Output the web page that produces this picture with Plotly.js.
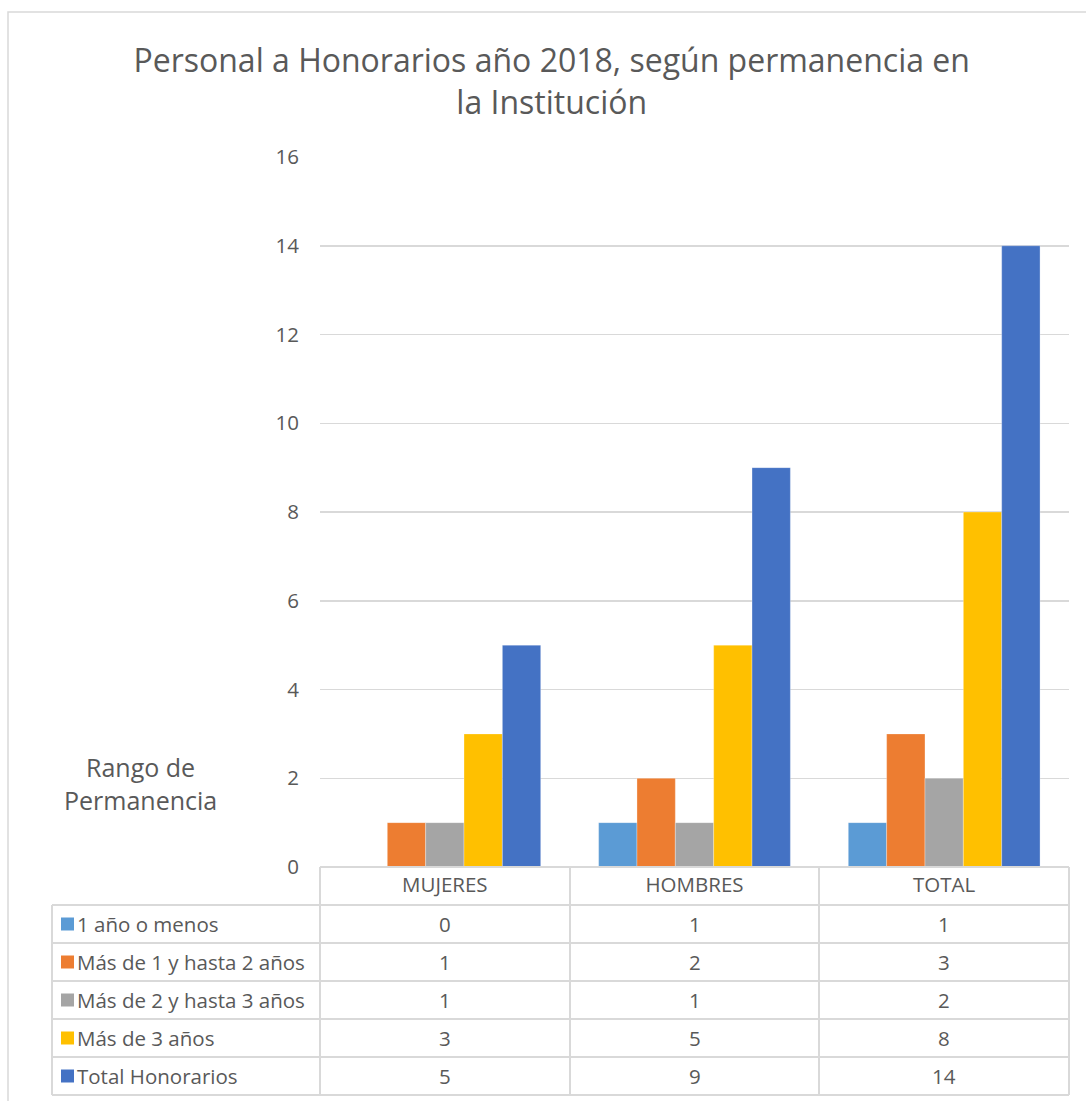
<!DOCTYPE html>
<html>
<head>
<meta charset="utf-8">
<script src="https://cdn.plot.ly/plotly-3.0.1.min.js"></script>
<style>
  body { margin: 0; background: #fff; }
  #plot { width: 1086px; height: 1101px; }
</style>
</head>
<body>
<div id="plot"></div>
<script>
// data
let categories = ['MUJERES', 'HOMBRES', 'TOTAL'];
let seriesNames = ['1 año o menos', 'Más de 1 y hasta 2 años', 'Más de 2 y hasta 3 años', 'Más de 3 años', 'Total Honorarios'];
let unAnio = [0, 1, 1];
let unoADos = [1, 2, 3];
let dosATres = [1, 1, 2];
let masDeTres = [3, 5, 8];
let totalHon = [5, 9, 14];
let yTicks = [0, 2, 4, 6, 8, 10, 12, 14, 16];

let colors = ['#5B9BD5', '#ED7D31', '#A5A5A5', '#FFC000', '#4472C4'];
let allValues = [unAnio, unoADos, dosATres, masDeTres, totalHon];

let W = 1086, H = 1101;
let mL = 320, mR = 17, mT = 157, mB = 234;
let plotW = W - mL - mR, plotH = H - mT - mB;
let textCol = '#595959';
let lineCol = '#d9d9d9';
let font = 'Open Sans, Noto Sans, sans-serif';

// pixel -> paper helpers
function px(x) { return (x - mL) / plotW; }
function py(y) { return (H - mB - y) / plotH; }

var data = allValues.map((vals, i) => ({
  x: categories,
  y: vals,
  name: seriesNames[i],
  type: 'bar',
  marker: { color: colors[i], line: { color: 'rgba(255,255,255,0.6)', width: 0.5 } },
  hoverinfo: 'skip',
  showlegend: false
}));

// table geometry
let rowTop = 905, rowH = 38;
let tableLeft = 52, tableRight = W - mR;
let catEdges = [320, 570, 819, 1069];

var shapes = [];
var annotations = [];

// outer chart border
shapes.push({ type: 'rect', xref: 'paper', yref: 'paper',
  x0: px(8), x1: px(1095), y0: py(12), y1: py(1110),
  line: { color: lineCol, width: 1.5 } });

// horizontal table lines
shapes.push({ type: 'line', xref: 'paper', yref: 'paper',
  x0: px(320), x1: px(tableRight), y0: py(867), y1: py(867), line: { color: lineCol, width: 2 } });
for (let r = 0; r <= seriesNames.length; r++) {
  let y = rowTop + r * rowH;
  shapes.push({ type: 'line', xref: 'paper', yref: 'paper',
    x0: px(tableLeft), x1: px(tableRight), y0: py(y), y1: py(y), line: { color: lineCol, width: 2 } });
}
// vertical table lines
shapes.push({ type: 'line', xref: 'paper', yref: 'paper',
  x0: px(tableLeft), x1: px(tableLeft), y0: py(rowTop), y1: py(rowTop + 5 * rowH), line: { color: lineCol, width: 2 } });
catEdges.forEach(x => {
  shapes.push({ type: 'line', xref: 'paper', yref: 'paper',
    x0: px(x), x1: px(x), y0: py(867), y1: py(rowTop + 5 * rowH), line: { color: lineCol, width: 2 } });
});

// rows: swatch, name, values
seriesNames.forEach((name, i) => {
  let cy = rowTop + i * rowH + rowH / 2;
  shapes.push({ type: 'rect', xref: 'paper', yref: 'paper',
    x0: px(61), x1: px(74), y0: py(cy - 6.5), y1: py(cy + 6.5),
    fillcolor: colors[i], line: { width: 0 } });
  annotations.push({ xref: 'paper', yref: 'paper', x: px(75), y: py(cy),
    xanchor: 'left', yanchor: 'middle', showarrow: false, text: name,
    font: { family: font, size: 20.5, color: textCol } });
  categories.forEach((c, j) => {
    annotations.push({ xref: 'x', yref: 'paper', x: c, y: py(cy),
      xanchor: 'center', yanchor: 'middle', showarrow: false, text: String(allValues[i][j]),
      font: { family: font, size: 20.5, color: textCol } });
  });
});

// axis caption at left
annotations.push({ xref: 'paper', yref: 'paper', x: px(140), y: py(783),
  xanchor: 'center', yanchor: 'middle', showarrow: false,
  text: 'Rango de<br>Permanencia', align: 'center',
  font: { family: font, size: 25, color: textCol } });

var layout = {
  width: W,
  height: H,
  margin: { l: mL, r: mR, t: mT, b: mB },
  paper_bgcolor: '#ffffff',
  plot_bgcolor: '#ffffff',
  font: { family: font, color: textCol },
  title: {
    text: 'Personal a Honorarios año 2018, según permanencia en<br>la Institución',
    x: 0.508, xref: 'container', xanchor: 'center',
    y: 1 - 72 / H, yref: 'container', yanchor: 'top',
    font: { family: font, size: 32, color: textCol }
  },
  barmode: 'group',
  bargap: 0.232,
  bargroupgap: 0,
  xaxis: {
    type: 'category',
    showgrid: false,
    zeroline: false,
    showline: false,
    ticks: '',
    ticklabelstandoff: 3,
    tickfont: { family: font, size: 20.5, color: textCol }
  },
  yaxis: {
    range: [0, 16],
    tickvals: yTicks,
    showgrid: true,
    gridcolor: lineCol,
    gridwidth: 1.5,
    zeroline: false,
    showline: false,
    ticks: '',
    ticklabelstandoff: 20,
    tickfont: { family: font, size: 20.5, color: textCol }
  },
  shapes: shapes,
  annotations: annotations
};

Plotly.newPlot('plot', data, layout, { displayModeBar: false, staticPlot: true });
</script>
</body>
</html>
